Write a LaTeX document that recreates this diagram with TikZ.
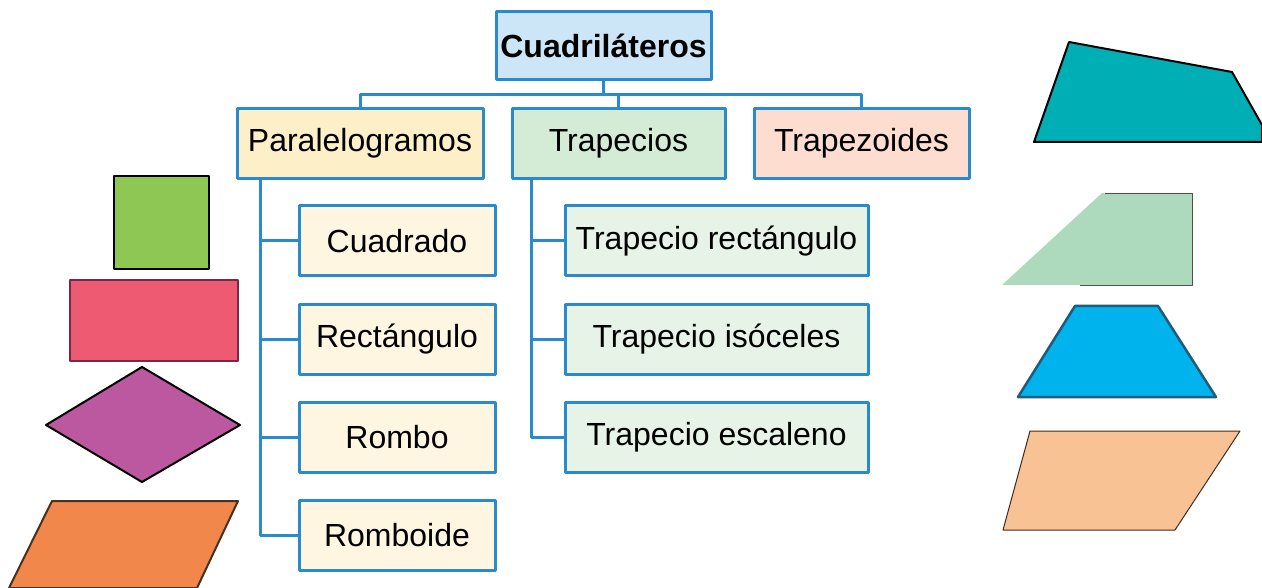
\documentclass[tikz,border=0pt]{standalone}
\usepackage{fontspec}
\setmainfont{Liberation Sans}
\definecolor{azul}{RGB}{41,139,204}
\definecolor{cajaazul}{RGB}{204,230,247}
\definecolor{cajaamar}{RGB}{253,239,200}
\definecolor{cajaverde}{RGB}{212,235,214}
\definecolor{cajarosa}{RGB}{253,221,208}
\definecolor{hijaamar}{RGB}{254,246,225}
\definecolor{hijaverde}{RGB}{232,243,232}
\begin{document}
\begin{tikzpicture}[x=1pt, y=-1pt, line join=round,
  caja/.style={draw=azul, line width=3pt, minimum height=70pt, inner sep=0pt,
    font=\fontsize{32}{38}\selectfont},
  conn/.style={draw=azul, line width=3pt}]
  \useasboundingbox (0,0) rectangle (1262,588);
  % esquema
  \node[caja, fill=cajaazul, minimum width=215pt, minimum height=68pt,
    font=\fontsize{32}{38}\selectfont\bfseries] (cuadri) at (603.5,46) {Cuadriláteros};
  \node[caja, fill=cajaamar, minimum width=246pt] (para) at (360,143.5) {Paralelogramos};
  \node[caja, fill=cajaverde, minimum width=213pt] (trap) at (618.5,143.5) {Trapecios};
  \node[caja, fill=cajarosa, minimum width=215pt] (trapz) at (861.5,143.5) {Trapezoides};
  % hijos de paralelogramos
  \node[caja, fill=hijaamar, minimum width=196pt] (cuad) at (397,241) {Cuadrado};
  \node[caja, fill=hijaamar, minimum width=196pt] (rect) at (397,339.5) {Rectángulo};
  \node[caja, fill=hijaamar, minimum width=196pt] (rombo) at (397,437.5) {Rombo};
  \node[caja, fill=hijaamar, minimum width=196pt] (romboide) at (397,535.5) {Romboide};
  % hijos de trapecios
  \node[caja, fill=hijaverde, minimum width=303pt] (trect) at (716.5,241) {Trapecio rectángulo};
  \node[caja, fill=hijaverde, minimum width=303pt] (tiso) at (716.5,339.5) {Trapecio isóceles};
  \node[caja, fill=hijaverde, minimum width=303pt] (tesc) at (716.5,437.5) {Trapecio escaleno};
  % conectores
  \coordinate (hub) at (603.5,95);
  \draw[conn] (cuadri.south) -- (hub);
  \draw[conn] (para.north) |- (hub);
  \draw[conn] (trapz.north) |- (hub);
  \draw[conn] (trap.north) -- (trap.north |- hub);
  \coordinate (pspine) at ([xshift=25pt]para.south west);
  \foreach \h in {cuad, rect, rombo, romboide}
    \draw[conn] (pspine) |- (\h.west);
  \coordinate (tspine) at ([xshift=21pt]trap.south west);
  \foreach \h in {trect, tiso, tesc}
    \draw[conn] (tspine) |- (\h.west);
  % figuras de la izquierda
  \draw[line width=2pt, fill={rgb,255:red,143;green,199;blue,85}] (114,176) rectangle (209,269);
  \draw[line width=2pt, draw={rgb,255:red,120;green,40;blue,70}, fill={rgb,255:red,238;green,90;blue,114}] (70,280) rectangle (238,361);
  \draw[line width=2pt, fill={rgb,255:red,188;green,88;blue,160}] (46,425) -- (142,367) -- (240,425) -- (142,482) -- cycle;
  \draw[line width=2pt, draw={rgb,255:red,70;green,50;blue,30}, fill={rgb,255:red,242;green,135;blue,76}] (52,501) -- (238,501) -- (197,588) -- (9,588) -- cycle;
  % figuras de la derecha
  \draw[line width=2pt, fill={rgb,255:red,0;green,174;blue,181}] (1069,42) -- (1232,72) -- (1262,125) -- (1262,142) -- (1034,142) -- cycle;
  \fill[fill={rgb,255:red,173;green,218;blue,189}] (1002,285) -- (1102,193) -- (1192,193) -- (1192,285) -- cycle;
  \draw[line width=0.8pt, draw={rgb,255:red,80;green,80;blue,70}] (1105,193) -- (1192,193) -- (1192,285) -- (1080,285);
  \draw[line width=2.5pt, draw={rgb,255:red,31;green,92;blue,122}, fill={rgb,255:red,0;green,179;blue,236}] (1075,306) -- (1158,306) -- (1216,397) -- (1018,397) -- cycle;
  \draw[line width=1pt, draw={rgb,255:red,60;green,45;blue,35}, fill={rgb,255:red,249;green,194;blue,149}] (1030,431) -- (1240,431) -- (1175,530) -- (1003,530) -- cycle;
\end{tikzpicture}
\end{document}
